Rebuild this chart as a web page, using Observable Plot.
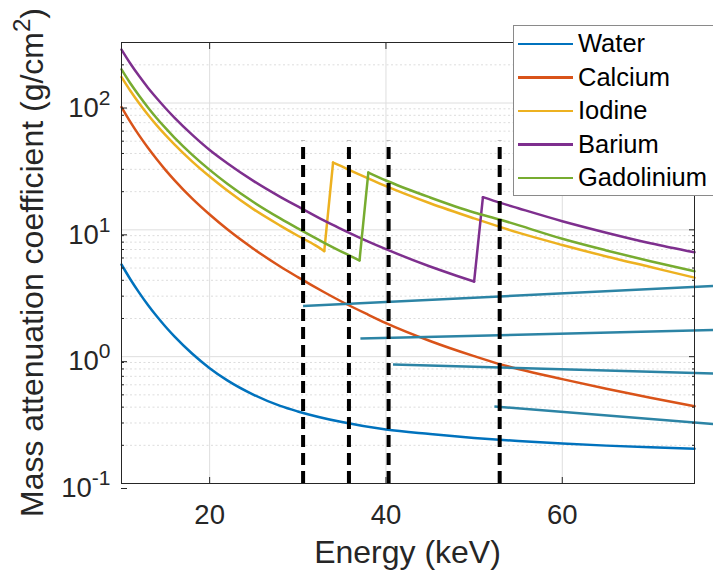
<!DOCTYPE html>
<html>
<head>
<meta charset="utf-8">
<script src="https://cdn.jsdelivr.net/npm/d3@7"></script>
<script src="https://cdn.jsdelivr.net/npm/@observablehq/plot@0.6"></script>
<style>
html, body { margin: 0; padding: 0; background: #fff; overflow: hidden; }
#wrap { position: relative; width: 713px; height: 575px; overflow: hidden; background: #fff; }
#legend { position: absolute; left: 513px; top: 25px; width: 210px; height: 171px; box-sizing: border-box;
  background: #fff; border: 1px solid #8a8a8a; padding-top: 1px; font-family: "Liberation Sans", Arial, sans-serif; }
#legend .row { display: flex; align-items: center; height: 33.5px; }
#legend .sw { display: inline-block; width: 55px; height: 2.5px; margin-left: 4px; margin-right: 5px; }
#legend .lab { font-size: 25.5px; line-height: 1; color: #000; white-space: nowrap; }
</style>
</head>
<body>
<div id="wrap"><div id="legend"></div></div>
<script>
// ---------- data ----------
const names  = ["Water", "Calcium", "Iodine", "Barium", "Gadolinium"];
const colors = ["#0072BD", "#D95319", "#EDB120", "#7E2F8E", "#77AC30"];

const waterE  = [10, 11, 12, 13, 14, 15, 16, 18, 20, 22, 25, 28, 30, 35, 40, 45, 50, 55, 60, 65, 70, 75];
const waterMu = [5.33, 4.08, 3.20, 2.555, 2.08, 1.72, 1.444, 1.059, 0.811, 0.650, 0.500, 0.409, 0.370, 0.305, 0.266, 0.2455, 0.2289, 0.2161, 0.2063, 0.1989, 0.193, 0.1882];

const calciumE  = [10, 11, 12, 13, 14, 15, 16, 18, 20, 22, 25, 28, 30, 33, 35, 38, 40, 45, 50, 53, 55, 60, 65, 70, 75];
const calciumMu = [93, 71.1, 55.6, 44.4, 36.0, 29.6, 24.7, 17.7, 13.2, 10.1, 7.07, 5.14, 4.24, 3.22, 2.71, 2.14, 1.84, 1.33, 1.01, 0.87, 0.80, 0.665, 0.558, 0.474, 0.407];

const iodineE1  = [10, 11, 12, 13, 14, 15, 16, 18, 20, 22, 25, 28, 30, 32, 33];
const iodineMu1 = [160, 125, 99.6, 80.8, 66.7, 55.8, 47.2, 34.7, 26.3, 20.4, 14.5, 10.8, 8.98, 7.54, 6.8];
const iodineE2  = [34, 35, 36, 38, 40, 45, 50, 55, 60, 65, 70, 75];
const iodineMu2 = [33.9, 31.6, 29.3, 25.4, 22.1, 16.2, 12.3, 9.5, 7.6, 6.17, 5.09, 4.2];

const bariumE1  = [10, 11, 12, 13, 14, 15, 16, 18, 20, 22, 25, 28, 30, 33, 35, 38, 40, 45, 48, 50];
const bariumMu1 = [264, 205, 163, 132, 109, 90.9, 76.7, 56.3, 42.6, 33.5, 24.2, 18.2, 15.3, 11.8, 10.1, 8.08, 7.04, 5.14, 4.35, 3.91];
const bariumE2  = [51, 53, 55, 60, 65, 70, 75];
const bariumMu2 = [18.1, 16.3, 14.8, 11.7, 9.5, 7.84, 6.65];

const gadoE1  = [10, 11, 12, 13, 14, 15, 16, 18, 20, 22, 25, 28, 30, 33, 35, 36, 37];
const gadoMu1 = [184, 143, 114, 92.3, 75.9, 63.3, 53.4, 39.2, 29.7, 23.1, 16.5, 12.3, 10.26, 7.9, 6.71, 6.21, 5.74];
const gadoE2  = [38, 40, 45, 50, 53, 55, 60, 65, 70, 75];
const gadoMu2 = [28.3, 24.5, 18.0, 13.7, 12.0, 10.9, 8.5, 6.88, 5.65, 4.71];

// teal straight segments (start / end)
const tealX1 = [30.6, 37.1, 40.8, 52.3];
const tealY1 = [2.51, 1.39, 0.869, 0.405];
const tealX2 = [77.1, 77.1, 77.1, 77.1];
const tealY2 = [3.6, 1.62, 0.738, 0.294];

// dashed vertical markers
const dashX = [30.6, 35.8, 40.3, 52.9];
const dashBottom = 0.1;
const dashTop = 50;

// axes
const xDomain = [10, 75];
const yDomain = [0.1, 300];
const xTicks = [20, 40, 60];
const yMajor = [0.1, 1, 10, 100];
const yMajorLabels = ["10^-1", "10^0", "10^1", "10^2"];
const yMinor = [0.2,0.3,0.4,0.5,0.6,0.7,0.8,0.9, 2,3,4,5,6,7,8,9, 20,30,40,50,60,70,80,90, 200];
const xLabel = "Energy (keV)";
const yLabelMain = "Mass attenuation coefficient (g/cm";
const yLabelSup = "2";
const yLabelEnd = ")";

// ---------- build ----------
const series = [
  {name: "Water", parts: [[waterE, waterMu]]},
  {name: "Calcium", parts: [[calciumE, calciumMu]]},
  {name: "Iodine", parts: [[iodineE1, iodineMu1], [iodineE2, iodineMu2]]},
  {name: "Barium", parts: [[bariumE1, bariumMu1], [bariumE2, bariumMu2]]},
  {name: "Gadolinium", parts: [[gadoE1, gadoMu1], [gadoE2, gadoMu2]]}
];
const toRows = (E, M) => E.map((e, j) => ({E: e, mu: M[j]}));

const curveMarks = [];
series.forEach((s, si) => {
  const col = colors[si];
  s.parts.forEach((p, pi) => {
    curveMarks.push(Plot.line(toRows(p[0], p[1]), {x: "E", y: "mu", stroke: col, strokeWidth: 2.5, curve: "monotone-x"}));
    if (pi > 0) {
      const prev = s.parts[pi - 1];
      const jump = [
        {E: prev[0][prev[0].length - 1], mu: prev[1][prev[1].length - 1]},
        {E: p[0][0], mu: p[1][0]}
      ];
      curveMarks.push(Plot.line(jump, {x: "E", y: "mu", stroke: col, strokeWidth: 2.5}));
    }
  });
});

const font = "Liberation Sans, Arial, Helvetica, sans-serif";
const axisCol = "#262626";
const tealIdx = tealX1.map((_, i) => i);

const chart = Plot.plot({
  width: 713, height: 575,
  marginLeft: 121, marginRight: 19, marginTop: 42, marginBottom: 92,
  style: {fontFamily: font, fontSize: "27.5px", color: axisCol, background: "white"},
  x: {domain: xDomain},
  y: {type: "log", domain: yDomain},
  marks: [
    Plot.gridY({ticks: yMinor, stroke: "#dddddd", strokeOpacity: 1, strokeWidth: 1, strokeDasharray: "2,2.5"}),
    Plot.gridX({ticks: xTicks, stroke: "#dedede", strokeOpacity: 1, strokeWidth: 1}),
    Plot.gridY({ticks: yMajor, stroke: "#dedede", strokeOpacity: 1, strokeWidth: 1}),
    ...curveMarks,
    Plot.link(tealIdx, {x1: i => tealX1[i], y1: i => tealY1[i], x2: i => tealX2[i], y2: i => tealY2[i], stroke: "#2c84a5", strokeWidth: 2.5}),
    Plot.ruleX(dashX, {y1: dashBottom, y2: dashTop, stroke: "#000", strokeWidth: 4, strokeDasharray: "12,6"}),
    Plot.frame({stroke: axisCol, strokeWidth: 1}),
    Plot.axisX({ticks: xTicks, anchor: "bottom", tickSize: -6, tickPadding: 27, fontSize: 27.5, color: axisCol, label: null}),
    Plot.axisX({ticks: xTicks, anchor: "top", tickSize: -6, tickFormat: () => "", label: null, color: axisCol}),
    Plot.axisY({ticks: yMajor, anchor: "left", tickSize: -6, tickPadding: 17, dy: 5, fontSize: 27.5, color: axisCol, label: null,
      tickFormat: d => yMajorLabels[yMajor.indexOf(d)]}),
    Plot.axisY({ticks: yMinor, anchor: "left", tickSize: -3, tickFormat: () => "", label: null, color: axisCol}),
    Plot.axisY({ticks: yMajor, anchor: "right", tickSize: -6, tickFormat: () => "", label: null, color: axisCol}),
    Plot.axisY({ticks: yMinor, anchor: "right", tickSize: -3, tickFormat: () => "", label: null, color: axisCol})
  ]
});

document.getElementById("wrap").prepend(chart);

// superscripts in y tick labels
const svg = d3.select(chart);
svg.selectAll("text").each(function() {
  const t = this.textContent;
  if (t && t.indexOf("^") > 0) {
    const [base, sup] = t.split("^");
    const sel = d3.select(this);
    sel.text(null);
    sel.append("tspan").text(base);
    sel.append("tspan").attr("dy", -12).attr("font-size", 21).text(sup);
  }
});

// axis titles
const cx = 121 + (713 - 121 - 19) / 2;
const cy = 42 + (575 - 42 - 92) / 2;
svg.append("text")
  .attr("x", cx).attr("y", 563)
  .attr("text-anchor", "middle")
  .attr("font-family", font).attr("font-size", 32).attr("fill", axisCol)
  .text(xLabel);
const yl = svg.append("text")
  .attr("transform", `translate(43,${cy}) rotate(-90)`)
  .attr("text-anchor", "middle")
  .attr("font-family", font).attr("font-size", 32).attr("fill", axisCol);
yl.append("tspan").text(yLabelMain);
yl.append("tspan").attr("dy", -13).attr("font-size", 24).text(yLabelSup);
yl.append("tspan").attr("dy", 13).text(yLabelEnd);

// legend
const legend = d3.select("#legend");
names.forEach((n, i) => {
  const row = legend.append("div").attr("class", "row");
  row.append("span").attr("class", "sw").style("background", colors[i]);
  row.append("span").attr("class", "lab").text(n);
});
</script>
</body>
</html>
